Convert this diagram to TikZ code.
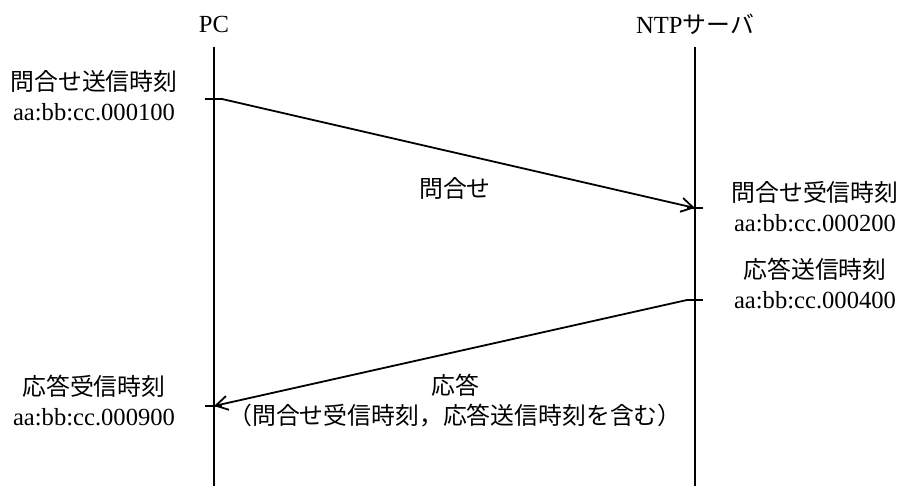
\documentclass[tikz,border=0pt]{standalone}
\usepackage{fontspec}
\setmainfont{Liberation Serif}
\newfontfamily\jpfont[Scale=0.97]{Noto Sans CJK JP}
\usetikzlibrary{arrows.meta}
\newcommand{\ja}[1]{{\jpfont #1}}

\begin{document}
\begin{tikzpicture}[x=0.5pt,y=-0.5pt,
  lbl/.style={font=\fontsize{12.3pt}{15pt}\selectfont, inner sep=0pt, align=center},
  life/.style={line width=0.9pt},
  tick/.style={line width=0.9pt},
  msg/.style={line width=0.9pt, -{Straight Barb[length=6pt,width=7pt]}}]
\useasboundingbox (0,0) rectangle (900,486);
% Cabeceras de las lineas de vida
\node[lbl] (pc) at (214,24) {PC};
\node[lbl] (ntp) at (695,24) {NTP\ja{サーバ}};
\coordinate (pctop) at (214,47);
\coordinate (pcbot) at (214,486);
\coordinate (ntptop) at (695,47);
\coordinate (ntpbot) at (695,486);
\draw[life] (pctop) -- (pcbot);
\draw[life] (ntptop) -- (ntpbot);
% Instantes de envio y recepcion
\coordinate (qsend) at (214,99);
\coordinate (qrecv) at (695,208);
\coordinate (rsend) at (695,300);
\coordinate (rrecv) at (214,406);
\draw[tick] ([xshift=-4.5pt]qsend) -- ([xshift=4pt]qsend);
\draw[tick] ([xshift=-4pt]qrecv) -- ([xshift=4pt]qrecv);
\draw[tick] ([xshift=-4pt]rsend) -- ([xshift=4pt]rsend);
\draw[tick] ([xshift=-4.5pt]rrecv) -- ([xshift=4pt]rrecv);
% Mensajes
\draw[msg] ([xshift=4pt]qsend) -- (qrecv);
\draw[msg] ([xshift=-4pt]rsend) -- (rrecv);
% Textos de los tiempos
\node[lbl] (qsendlbl) at (94,96) {\ja{問合せ送信時刻}\\aa:bb:cc.000100};
\node[lbl] (qrecvlbl) at (815,207) {\ja{問合せ受信時刻}\\aa:bb:cc.000200};
\node[lbl] (rsendlbl) at (815,283) {\ja{応答送信時刻}\\aa:bb:cc.000400};
\node[lbl] (rrecvlbl) at (94,400) {\ja{応答受信時刻}\\aa:bb:cc.000900};
% Textos de los mensajes
\node[lbl] (qmsg) at (455,188) {\ja{問合せ}};
\node[lbl] (rmsg) at (455,401) {\ja{応答}\\\ja{（問合せ受信時刻，応答送信時刻を含む）}};
\end{tikzpicture}
\end{document}
